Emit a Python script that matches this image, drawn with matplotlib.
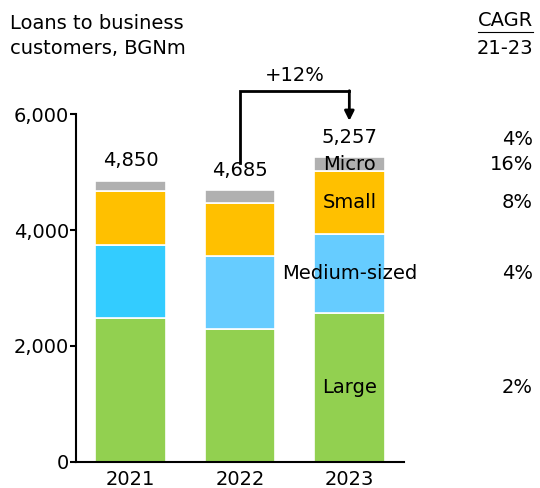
import matplotlib.pyplot as plt
import numpy as np

years = ['2021', '2022', '2023']
large = [2490, 2290, 2570]
medium = [1260, 1255, 1370]
small = [920, 930, 1075]
micro = [180, 210, 242]
totals = ['4,850', '4,685', '5,257']
seg_names = ['Large', 'Medium-sized', 'Small', 'Micro']
cagr = ['2%', '4%', '8%', '16%']
cagr_total = '4%'

plt.rcParams['font.family'] = ['DejaVu Sans']
fs = 14

fig = plt.figure(figsize=(5.4, 4.88), dpi=100)
ax = fig.add_axes([76/540, 26.3/488, (404-76)/540, (461.7-114.3)/488])

x = np.arange(len(years))
w = 0.646
green = '#92D050'
blue = ['#33CCFF', '#66CCFF', '#66CCFF']
orange = '#FFC000'
grey = '#B0B0B0'

b1 = np.array(large)
b2 = b1 + np.array(medium)
b3 = b2 + np.array(small)
top = b3 + np.array(micro)

ax.bar(x, large, w, color=green, edgecolor='white', linewidth=1.2)
ax.bar(x, medium, w, bottom=b1, color=blue, edgecolor='white', linewidth=1.2)
ax.bar(x, small, w, bottom=b2, color=orange, edgecolor='white', linewidth=1.2)
ax.bar(x, micro, w, bottom=b3, color=grey, edgecolor='white', linewidth=1.2)

# totals above bars
for i in range(len(years)):
    ax.text(x[i], top[i] + 180, totals[i], ha='center', va='bottom', fontsize=fs)

# segment labels on the 2023 bar
mids = [large[2] / 2, b1[2] + medium[2] / 2, b2[2] + small[2] / 2, b3[2] + micro[2] / 2]
for name, m in zip(seg_names, mids):
    ax.text(x[2], m, name, ha='center', va='center', fontsize=fs)

# CAGR column
fig.text(533/540, 1 - 21/488, 'CAGR', ha='right', va='center', fontsize=fs)
fig.add_artist(plt.Line2D([478/540, 533/540], [1 - 32/488, 1 - 32/488], color='black', lw=0.8))
fig.text(533/540, 1 - 49/488, '21-23', ha='right', va='center', fontsize=fs)
for lab, m in zip(cagr, mids):
    ax.text(2.5 + 129/109.3, m, lab, ha='right', va='center', fontsize=fs, clip_on=False)
ax.text(2.5 + 129/109.3, top[2] + 300, cagr_total, ha='right', va='center', fontsize=fs, clip_on=False)

# growth arrow 2022 -> 2023
y_line = (461.7 - 90.7) / 0.05790
ax.plot([x[1], x[1], x[2]], [top[1] + 480, y_line, y_line], color='black', lw=2,
        clip_on=False, solid_joinstyle='miter')
ax.annotate('', xy=(x[2], top[2] + 630), xytext=(x[2], y_line),
            arrowprops=dict(arrowstyle='-|>', color='black', lw=2, mutation_scale=14,
                            shrinkA=0, shrinkB=0), annotation_clip=False)
ax.text((x[1] + x[2]) / 2, y_line + 270, '+12%', ha='center', va='center', fontsize=fs)

fig.text(10/540, 1 - 36/488, 'Loans to business\ncustomers, BGNm', ha='left', va='center',
         fontsize=fs, linespacing=1.34)

ax.set_xlim(-0.5, 2.5)
ax.set_ylim(0, 6000)
ax.set_xticks(x)
ax.set_xticklabels(years, fontsize=fs)
ax.tick_params(axis='x', length=0, pad=6)
ax.set_yticks([0, 2000, 4000, 6000])
ax.set_yticklabels(['0', '2,000', '4,000', '6,000'], fontsize=fs)
ax.tick_params(axis='y', length=4, width=1.5, pad=1)
ax.spines['top'].set_visible(False)
ax.spines['right'].set_visible(False)
ax.spines['left'].set_linewidth(1.5)
ax.spines['bottom'].set_linewidth(1.5)

plt.savefig('out.png', dpi=100)
